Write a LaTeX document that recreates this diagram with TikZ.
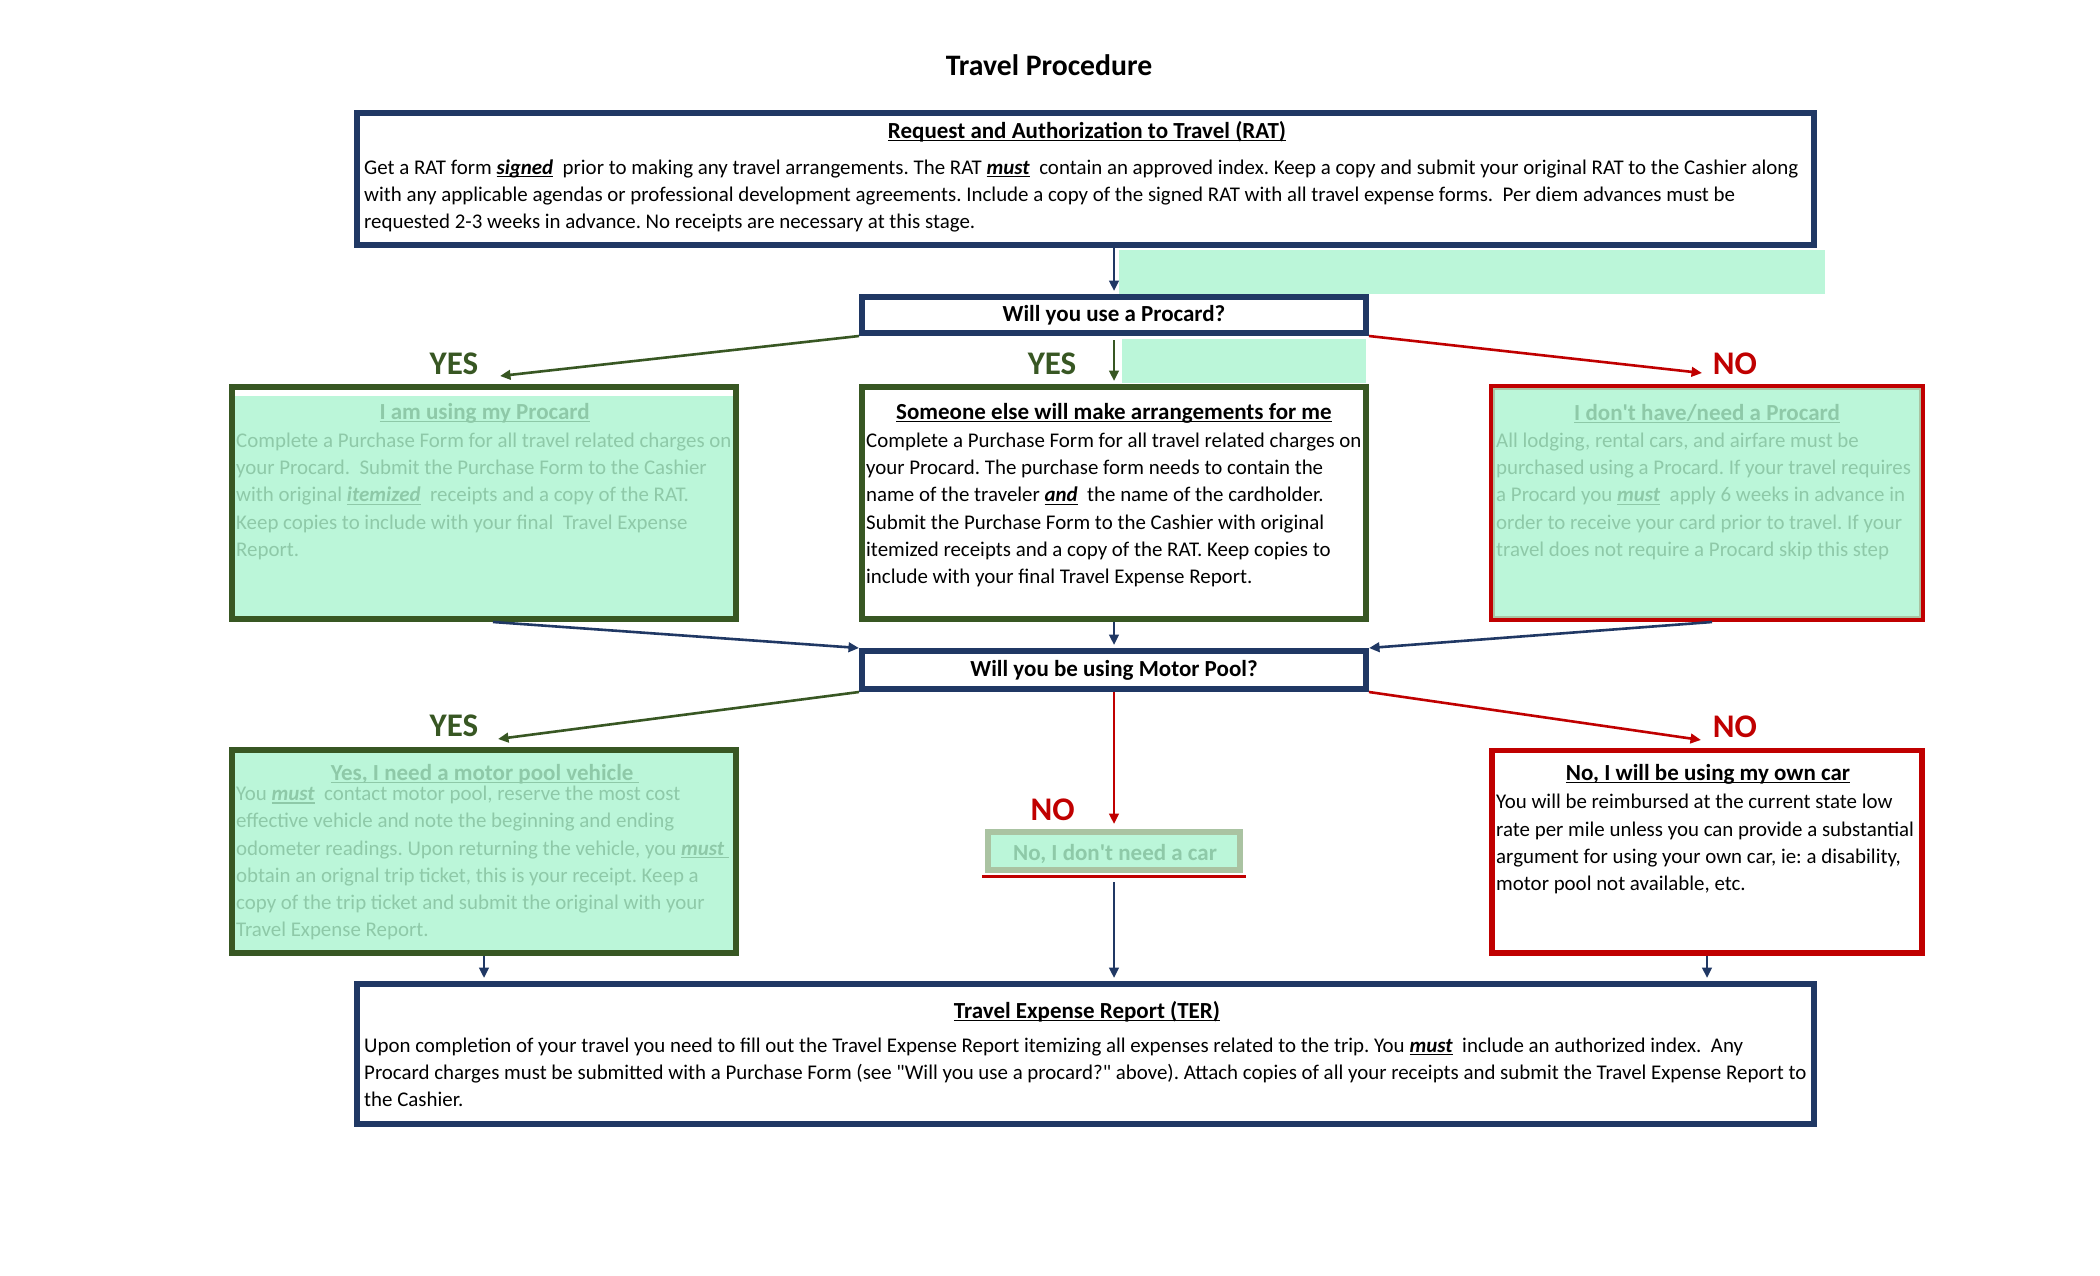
\documentclass[tikz,border=0pt]{standalone}
\usepackage{fontspec}
\setmainfont{Carlito}
\usetikzlibrary{arrows.meta,calc}
\definecolor{navy}{RGB}{32,56,100}
\definecolor{dkgreen}{RGB}{56,87,35}
\definecolor{dkred}{RGB}{192,0,0}
\definecolor{lgreen}{RGB}{187,246,217}
\definecolor{faded}{RGB}{142,201,168}
\definecolor{greygreen}{RGB}{170,195,162}
\newcommand{\ulx}[1]{\setbox0=\hbox{#1}\rlap{\rule[-3pt]{\wd0}{1.4pt}}\box0}
\newcommand{\bix}[1]{\ulx{\textbf{\textit{#1}}}}
\frenchspacing
\begin{document}
\begin{tikzpicture}[x=1pt,y=-1pt,
  box/.style={rectangle, inner sep=0pt, line width=5.7pt},
  body/.style={inner sep=0pt, anchor=base west, font=\fontsize{20.9}{27.3}\selectfont},
  ttl/.style={inner sep=0pt, anchor=base, font=\fontsize{23}{27.3}\selectfont\bfseries},
  lbl/.style={inner sep=0pt, anchor=base, font=\fontsize{33}{40}\selectfont\bfseries},
  arr/.style={line width=2.6pt, -{Triangle[length=10.5pt,width=9.5pt]}},
]
\useasboundingbox[fill=white] (0,0) rectangle (2100,1275);

% decorative light green patches
\fill[lgreen] (1119,250) rectangle (1825,293.7);
\fill[lgreen] (1122,339) rectangle (1366,383);

% title
\node[inner sep=0pt, anchor=base, font=\fontsize{29.7}{35}\selectfont\bfseries] (title) at (1049,75) {Travel Procedure};

% boxes
\node[box, draw=navy, minimum width=1457.3pt, minimum height=132.3pt] (rat) at (1085.5,179) {};
\node[box, draw=navy, minimum width=504.3pt, minimum height=36.3pt] (proc) at (1114,315) {};

\fill[lgreen] (234.7,395.7) rectangle (733,616.3);
\node[box, draw=dkgreen, minimum width=504.3pt, minimum height=232.3pt] (l1) at (484,503) {};
\node[box, draw=dkgreen, minimum width=504.3pt, minimum height=232.3pt] (m1) at (1114,503) {};
\fill[lgreen, draw=greygreen, line width=2.3pt] (1494.2,388.5) rectangle (1919.8,617.2);
\node[box, draw=dkred, line width=4pt, minimum width=432pt, minimum height=234pt] (r1) at (1707,503) {};

\node[box, draw=navy, minimum width=504.3pt, minimum height=38.3pt] (mp) at (1114,670) {};

\node[box, draw=dkgreen, fill=lgreen, minimum width=504.3pt, minimum height=203.3pt] (l2) at (484,851.5) {};
\node[box, draw=greygreen, fill=lgreen, minimum width=252.3pt, minimum height=38.3pt] (mid) at (1114,851) {};
\draw[dkred, line width=2.7pt] ([shift={(-2.85,3.8)}]mid.south west) -- ([shift={(2.85,3.8)}]mid.south east);
\node[box, draw=dkred, minimum width=430.3pt, minimum height=202.3pt] (r2) at (1707,851.7) {};

\node[box, draw=navy, minimum width=1457.3pt, minimum height=140.3pt] (ter) at (1085.5,1054) {};

% arrow end points
\coordinate (tipL1) at (500,376);
\coordinate (tipR1) at (1702,373);
\coordinate (tipL2) at (498,739);
\coordinate (tipR2) at (1701,740);
\coordinate (tipMid) at (1114,824);

% connectors
\draw[arr, navy, shorten >=3pt] (rat.south -| proc.north) -- (proc.north);
\draw[arr, dkgreen] (proc.south west) -- (tipL1);
\draw[arr, dkgreen, shorten <=4pt, shorten >=3pt] (proc.south) -- (m1.north);
\draw[arr, dkred] (proc.south east) -- (tipR1);
\draw[arr, navy] ($(l1.south)+(9,0)$) -- (mp.north west);
\draw[arr, navy, shorten >=3pt] (m1.south) -- (mp.north);
\draw[arr, navy] ($(r1.south)+(5,0)$) -- (mp.north east);
\draw[arr, dkgreen] (mp.south west) -- (tipL2);
\draw[arr, dkred] (mp.south) -- (tipMid);
\draw[arr, dkred] (mp.south east) -- (tipR2);
\draw[arr, navy, shorten <=9pt, shorten >=3pt] (mid.south) -- (mid.south |- ter.north);
\draw[arr, navy, shorten >=3pt] (l2.south) -- (l2.south |- ter.north);
\draw[arr, navy, shorten >=3pt] (r2.south) -- (r2.south |- ter.north);

% labels
\node[lbl, text=dkgreen] (yes1) at (454,374.6) {YES};
\node[lbl, text=dkgreen] (yes2) at (1052,374.6) {YES};
\node[lbl, text=dkred] (no1) at (1735,374.6) {NO};
\node[lbl, text=dkgreen] (yes3) at (454,736.6) {YES};
\node[lbl, text=dkred] (no2) at (1052.7,820.6) {NO};
\node[lbl, text=dkred] (no3) at (1735,737.3) {NO};

% texts
\node[ttl] (ratTitle) at (1087,138) {\ulx{Request and Authorization to Travel (RAT)}};
\node[body] (ratText) at (364,174) {\vtop{%
\hbox{Get a RAT form \bix{signed}\ \ prior to making any travel arrangements. The RAT \bix{must}\ \ contain an approved index. Keep a copy and submit your original RAT to the Cashier along}%
\hbox{with any applicable agendas or professional development agreements. Include a copy of the signed RAT with all travel expense forms.\ \ Per diem advances must be}%
\hbox{requested 2-3 weeks in advance. No receipts are necessary at this stage.}}};

\node[ttl] (procText) at (1114,321.7) {Will you use a Procard?};

\node[ttl, text=faded] (l1Title) at (484.6,419) {\ulx{I am using my Procard}};
\node[body, text=faded] (l1Text) at (236,447.3) {\vtop{%
\hbox{Complete a Purchase Form for all travel related charges on}%
\hbox{your Procard.\ \ Submit the Purchase Form to the Cashier}%
\hbox{with original \bix{itemized}\ \ receipts and a copy of the RAT.}%
\hbox{Keep copies to include with your final\ \ Travel Expense}%
\hbox{Report.}}};

\node[ttl] (m1Title) at (1114,419.3) {\ulx{Someone else will make arrangements for me}};
\node[body] (m1Text) at (866,447.3) {\vtop{%
\hbox{Complete a Purchase Form for all travel related charges on}%
\hbox{your Procard. The purchase form needs to contain the}%
\hbox{name of the traveler \bix{and}\ \ the name of the cardholder.}%
\hbox{Submit the Purchase Form to the Cashier with original}%
\hbox{itemized receipts and a copy of the RAT. Keep copies to}%
\hbox{include with your final Travel Expense Report.}}};

\node[ttl, text=faded] (r1Title) at (1707,420) {\ulx{I don\textquotesingle t have/need a Procard}};
\node[body, text=faded] (r1Text) at (1496,447.3) {\vtop{%
\hbox{All lodging, rental cars, and airfare must be}%
\hbox{purchased using a Procard. If your travel requires}%
\hbox{a Procard you \bix{must}\ \ apply 6 weeks in advance in}%
\hbox{order to receive your card prior to travel. If your}%
\hbox{travel does not require a Procard skip this step}}};

\node[ttl] (mpText) at (1114,676) {Will you be using Motor Pool?};

\node[ttl, text=faded] (l2Title) at (484.8,780) {\ulx{Yes, I need a motor pool vehicle\ }};
\node[body, text=faded] (l2Text) at (236,800.7) {\vtop{\baselineskip=27.2pt
\hbox{You \bix{must}\ \ contact motor pool, reserve the most cost}%
\hbox{effective vehicle and note the beginning and ending}%
\hbox{odometer readings. Upon returning the vehicle, you \bix{must\ }}%
\hbox{obtain an orignal trip ticket, this is your receipt. Keep a}%
\hbox{copy of the trip ticket and submit the original with your}%
\hbox{Travel Expense Report.}}};

\node[ttl, text=faded] (midText) at (1115,860) {No, I don\textquotesingle t need a car};

\node[ttl] (r2Title) at (1708,780) {\ulx{No, I will be using my own car}};
\node[body] (r2Text) at (1496,808.7) {\vtop{%
\hbox{You will be reimbursed at the current state low}%
\hbox{rate per mile unless you can provide a substantial}%
\hbox{argument for using your own car, ie: a disability,}%
\hbox{motor pool not available, etc.}}};

\node[ttl] (terTitle) at (1087,1018.3) {\ulx{Travel Expense Report (TER)}};
\node[body] (terText) at (364,1052) {\vtop{%
\hbox{Upon completion of your travel you need to fill out the Travel Expense Report itemizing all expenses related to the trip. You \bix{must}\ \ include an authorized index.\ \ Any}%
\hbox{Procard charges must be submitted with a Purchase Form (see \textquotedbl Will you use a procard?\textquotedbl\ above). Attach copies of all your receipts and submit the Travel Expense Report to}%
\hbox{the Cashier.}}};
\end{tikzpicture}
\end{document}
